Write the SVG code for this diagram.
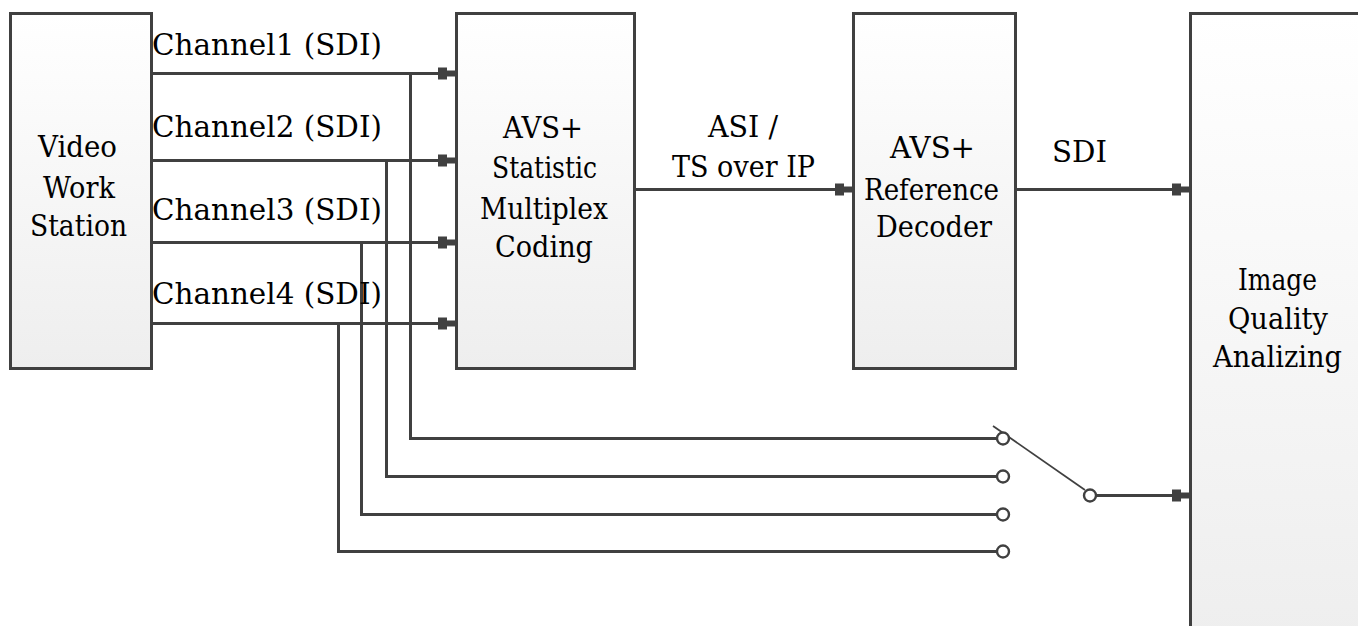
<svg xmlns="http://www.w3.org/2000/svg" width="1358" height="626" viewBox="0 0 1358 626">
<style>
.box{stroke:#404040;stroke-width:3;fill:url(#g)}
.ln{stroke:#404040;stroke-width:3;fill:none}
.t{font-family:"DejaVu Serif","Liberation Serif",serif;font-size:29px;fill:#000}
.sw{stroke:#404040;stroke-width:2.4;fill:#fff}
</style>
<defs>
<linearGradient id="g" x1="0" y1="0" x2="0" y2="1"><stop offset="0" stop-color="#ffffff"/><stop offset="1" stop-color="#eeeeee"/></linearGradient>
<marker id="a" viewBox="-18 -7 20 14" markerWidth="20" markerHeight="14" refX="0" refY="0" orient="auto" markerUnits="userSpaceOnUse">
<path d="M-17,-6 H-8 V-3 H0 V3 H-8 V6 H-17 Z" fill="#404040"/>
</marker>
</defs>
<rect width="1358" height="626" fill="#fff"/>
<g id="vws"><rect class="box" x="10.5" y="13.5" width="141" height="355"/>
<text class="t" x="38" y="157" textLength="79" lengthAdjust="spacingAndGlyphs">Video</text>
<text class="t" x="43" y="198" textLength="72" lengthAdjust="spacingAndGlyphs">Work</text>
<text class="t" x="30" y="236" textLength="97" lengthAdjust="spacingAndGlyphs">Station</text></g>
<g id="mux"><rect class="box" x="456.5" y="13.5" width="178" height="355"/>
<text class="t" x="503" y="138" textLength="80" lengthAdjust="spacingAndGlyphs">AVS+</text>
<text class="t" x="492" y="178" textLength="105" lengthAdjust="spacingAndGlyphs">Statistic</text>
<text class="t" x="480" y="219" textLength="128" lengthAdjust="spacingAndGlyphs">Multiplex</text>
<text class="t" x="495" y="257" textLength="98" lengthAdjust="spacingAndGlyphs">Coding</text></g>
<g id="dec"><rect class="box" x="853.5" y="13.5" width="162" height="355"/>
<text class="t" x="890" y="158" textLength="85" lengthAdjust="spacingAndGlyphs">AVS+</text>
<text class="t" x="864" y="200" textLength="135" lengthAdjust="spacingAndGlyphs">Reference</text>
<text class="t" x="876" y="237" textLength="116" lengthAdjust="spacingAndGlyphs">Decoder</text></g>
<g id="iqa"><rect class="box" x="1190.5" y="13.5" width="180" height="630"/>
<text class="t" x="1238" y="290" textLength="79" lengthAdjust="spacingAndGlyphs">Image</text>
<text class="t" x="1228" y="329" textLength="100" lengthAdjust="spacingAndGlyphs">Quality</text>
<text class="t" x="1213" y="367" textLength="129" lengthAdjust="spacingAndGlyphs">Analizing</text></g>
<g id="connectors">
<path class="ln" d="M152,73.5 H455" marker-end="url(#a)"/>
<path class="ln" d="M152,160.5 H455" marker-end="url(#a)"/>
<path class="ln" d="M152,242.5 H455" marker-end="url(#a)"/>
<path class="ln" d="M152,323.5 H455" marker-end="url(#a)"/>
<path class="ln" d="M410.5,73.5 V438.5 H997"/>
<path class="ln" d="M386.5,160.5 V476.5 H997"/>
<path class="ln" d="M361.5,242.5 V514.5 H997"/>
<path class="ln" d="M338.5,323.5 V551.5 H997"/>
<path class="ln" d="M635,189.5 H852" marker-end="url(#a)"/>
<path class="ln" d="M1016,189.5 H1189" marker-end="url(#a)"/>
<path class="ln" d="M1096,495.5 H1189" marker-end="url(#a)"/>
<path d="M993,426 L1085,490" stroke="#404040" stroke-width="1.8"/>
<circle class="sw" cx="1003" cy="438.5" r="6"/>
<circle class="sw" cx="1003" cy="476.5" r="6"/>
<circle class="sw" cx="1003" cy="514.5" r="6"/>
<circle class="sw" cx="1003" cy="551.5" r="6"/>
<circle class="sw" cx="1090" cy="495.5" r="6"/>
</g>
<g id="labels">
<text class="t" x="152" y="55" textLength="230" lengthAdjust="spacingAndGlyphs">Channel1 (SDI)</text>
<text class="t" x="152" y="137" textLength="230" lengthAdjust="spacingAndGlyphs">Channel2 (SDI)</text>
<text class="t" x="152" y="220" textLength="230" lengthAdjust="spacingAndGlyphs">Channel3 (SDI)</text>
<text class="t" x="152" y="304" textLength="230" lengthAdjust="spacingAndGlyphs">Channel4 (SDI)</text>
<text class="t" x="708" y="137" textLength="70" lengthAdjust="spacingAndGlyphs">ASI /</text>
<text class="t" x="672" y="177" textLength="143" lengthAdjust="spacingAndGlyphs">TS over IP</text>
<text class="t" x="1052" y="162" textLength="55" lengthAdjust="spacingAndGlyphs">SDI</text>
</g>
</svg>
